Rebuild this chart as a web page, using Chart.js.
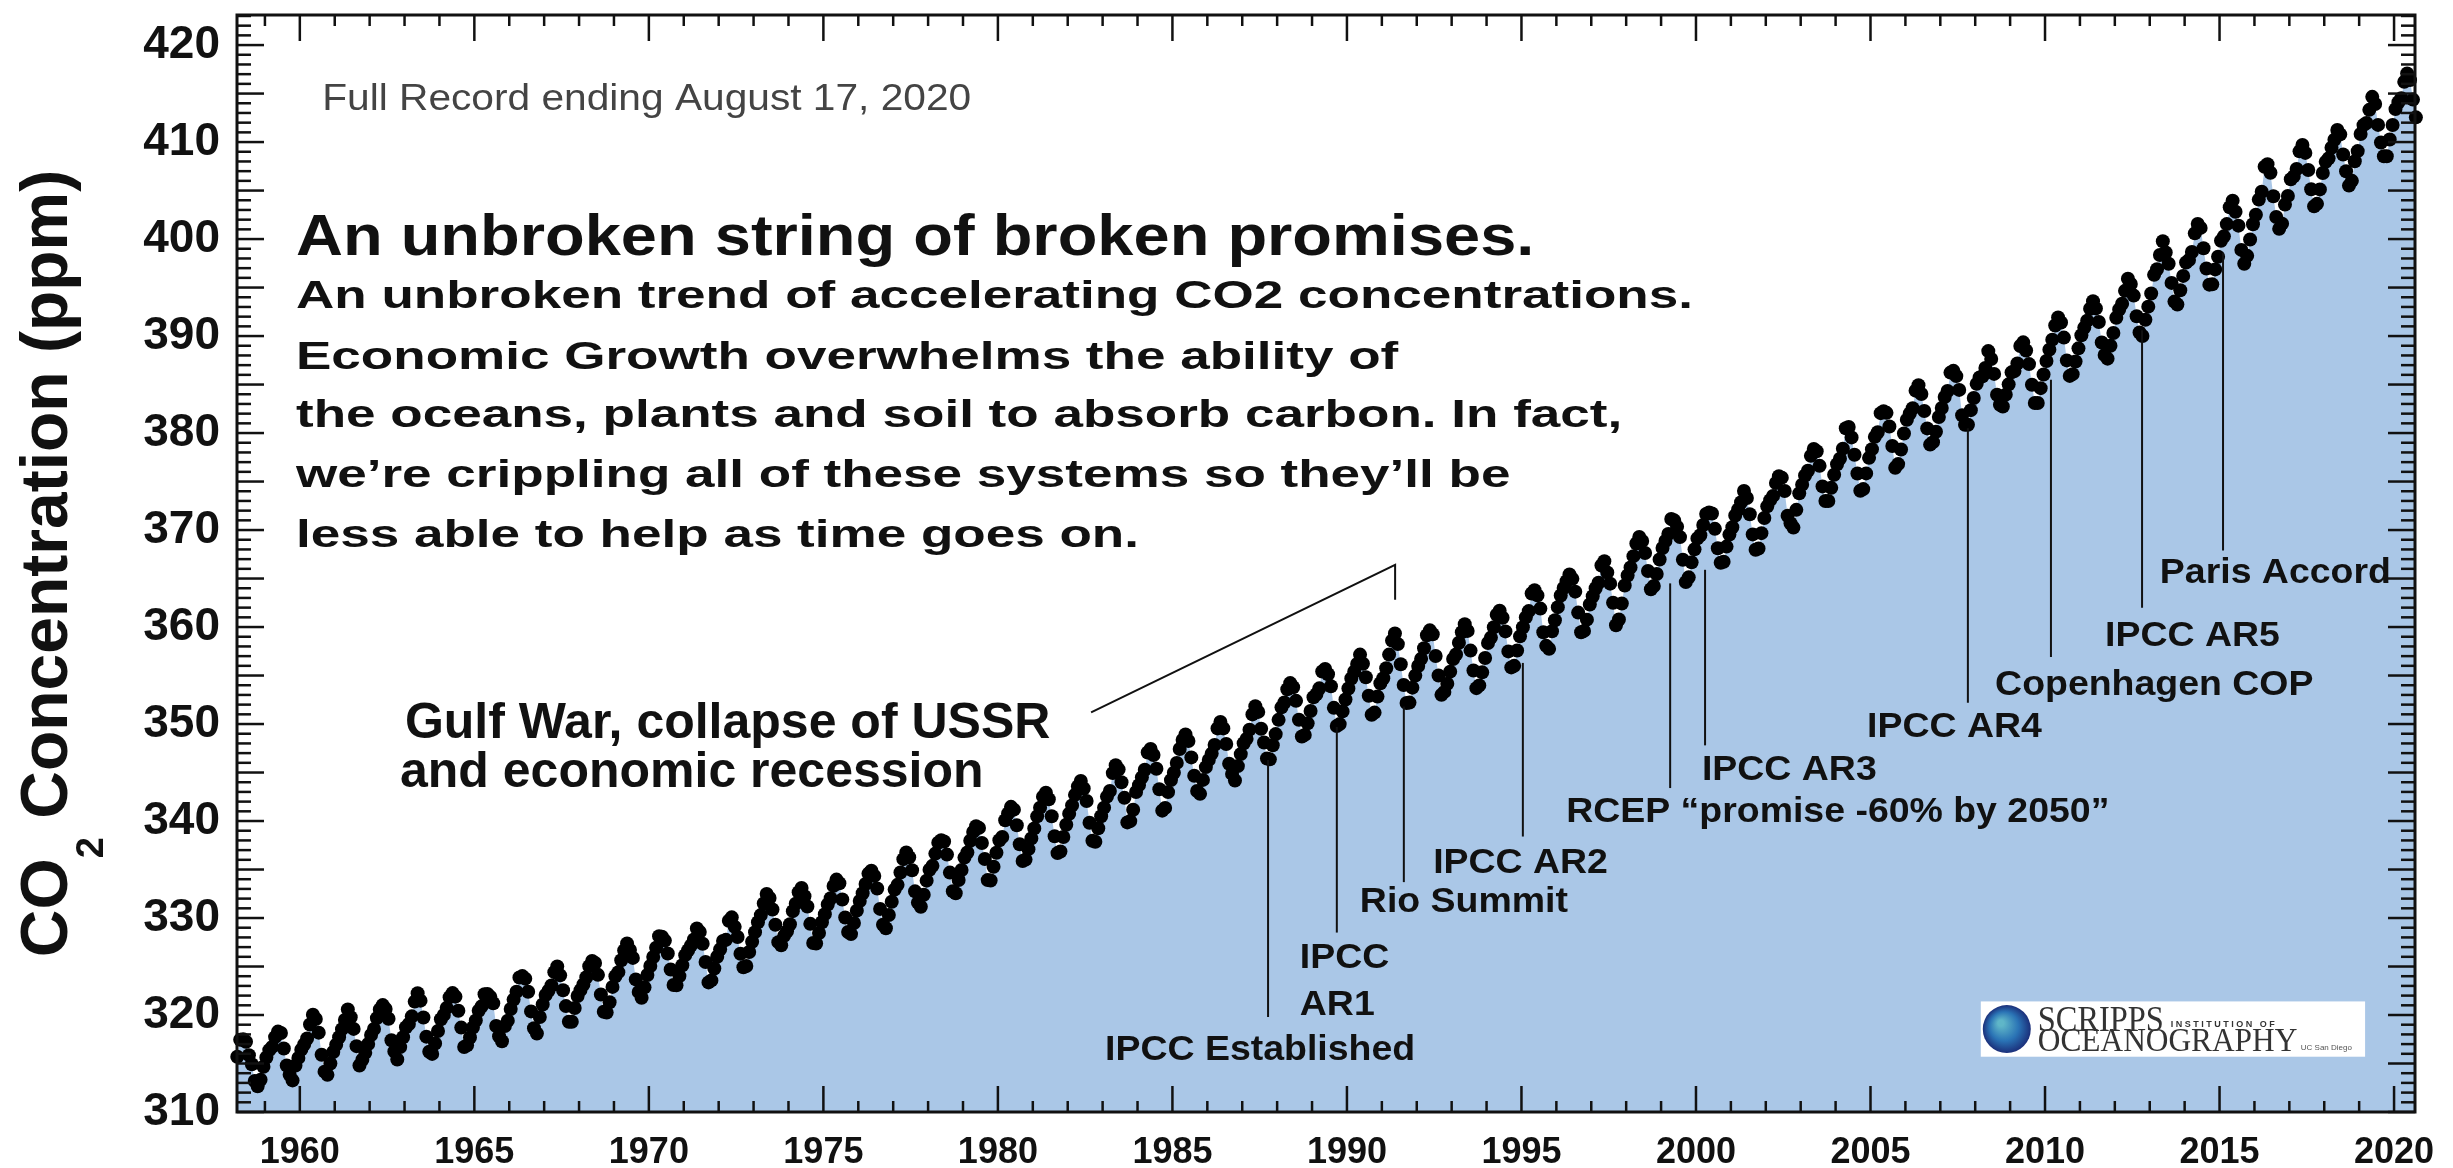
<!DOCTYPE html>
<html>
<head>
<meta charset="utf-8">
<title>CO2 Concentration - Full Record</title>
<script src="https://cdn.jsdelivr.net/npm/chart.js@4.4.1/dist/chart.umd.min.js"></script>
<style>
  html, body { margin: 0; padding: 0; background: #fff; }
  #wrap { width: 2453px; height: 1168px; }
</style>
</head>
<body>
<div id="wrap"><canvas id="co2" width="2453" height="1168"></canvas></div>
<script>
// Mauna Loa monthly mean CO2 (ppm), record starts March 1958
const co2_1958_1959 = [
  315.70, 317.45, 317.51, 317.24, 315.86, 314.93, 313.20, 312.66, 313.33, 314.67,
  315.62, 316.38, 316.71, 317.72, 318.29, 318.15, 316.54, 314.80, 313.84, 313.26, 314.80, 315.58
];
const co2_1960s = [
  316.43, 316.97, 317.58, 319.02, 320.03, 319.59, 318.18, 315.91, 314.16, 313.83, 315.00, 316.19,
  316.93, 317.70, 318.54, 319.48, 320.58, 319.77, 318.57, 316.79, 314.80, 315.38, 316.10, 317.01,
  317.94, 318.55, 319.68, 320.57, 321.02, 320.62, 319.61, 317.40, 316.25, 315.42, 316.69, 317.70,
  318.74, 319.07, 319.86, 321.38, 322.25, 321.48, 319.74, 317.77, 316.21, 315.99, 317.07, 318.35,
  319.57, 320.01, 320.74, 321.84, 322.26, 321.89, 320.44, 318.70, 316.70, 316.87, 317.68, 318.71,
  319.44, 320.44, 320.89, 322.14, 322.17, 321.87, 321.21, 318.87, 317.81, 317.30, 318.87, 319.42,
  320.62, 321.59, 322.39, 323.87, 324.01, 323.75, 322.39, 320.37, 318.64, 318.10, 319.79, 321.08,
  322.07, 322.50, 323.04, 324.42, 325.00, 324.09, 322.55, 320.92, 319.31, 319.31, 320.72, 321.96,
  322.57, 323.15, 323.89, 325.02, 325.57, 325.36, 324.14, 322.11, 320.33, 320.25, 321.32, 322.90,
  324.00, 324.42, 325.64, 326.66, 327.38, 326.70, 325.89, 323.67, 322.38, 321.78, 322.85, 324.12
];
const co2_1970s = [
  325.06, 325.98, 326.93, 328.13, 328.08, 327.67, 326.34, 324.69, 323.10, 323.06, 324.01, 325.13,
  326.17, 326.68, 327.18, 327.78, 328.92, 328.57, 327.34, 325.46, 323.36, 323.57, 324.80, 326.01,
  326.77, 327.63, 327.75, 329.72, 330.07, 329.09, 328.05, 326.32, 324.93, 325.06, 326.50, 327.55,
  328.54, 329.56, 330.30, 331.50, 332.48, 332.07, 330.87, 329.31, 327.51, 327.18, 328.16, 328.64,
  329.35, 330.71, 331.48, 332.65, 333.09, 332.25, 331.18, 329.40, 327.43, 327.37, 328.46, 329.57,
  330.40, 331.40, 332.04, 333.31, 333.96, 333.59, 331.91, 330.06, 328.56, 328.34, 329.49, 330.76,
  331.75, 332.56, 333.50, 334.58, 334.87, 334.34, 333.05, 330.94, 329.30, 328.94, 330.31, 331.68,
  332.93, 333.42, 334.70, 336.07, 336.75, 336.27, 334.92, 332.75, 331.59, 331.16, 332.40, 333.85,
  334.97, 335.38, 336.64, 337.76, 338.01, 337.89, 336.54, 334.68, 332.76, 332.55, 333.92, 334.95,
  336.23, 336.76, 337.96, 338.88, 339.47, 339.29, 337.73, 336.09, 333.91, 333.86, 335.29, 336.73
];
const co2_1980s = [
  338.01, 338.36, 340.08, 340.77, 341.46, 341.17, 339.56, 337.60, 335.88, 336.02, 337.10, 338.21,
  339.24, 340.48, 341.38, 342.51, 342.91, 342.25, 340.49, 338.43, 336.69, 336.85, 338.36, 339.61,
  340.75, 341.61, 342.70, 343.56, 344.13, 343.35, 342.06, 339.82, 337.97, 337.86, 339.26, 340.49,
  341.38, 342.52, 343.10, 344.94, 345.75, 345.32, 343.99, 342.39, 339.86, 339.99, 341.16, 342.99,
  343.70, 344.50, 345.28, 347.06, 347.43, 346.80, 345.39, 343.28, 341.07, 341.35, 342.98, 344.22,
  344.97, 345.99, 347.42, 348.35, 348.93, 348.25, 346.56, 344.67, 343.09, 342.80, 344.24, 345.56,
  346.30, 346.95, 347.85, 349.55, 350.21, 349.55, 347.94, 345.91, 344.86, 344.17, 345.66, 346.90,
  348.02, 348.47, 349.42, 350.99, 351.84, 351.25, 349.52, 348.10, 346.44, 346.36, 347.81, 348.96,
  350.43, 351.72, 352.22, 353.59, 354.22, 353.79, 352.39, 350.44, 348.72, 348.88, 350.07, 351.34,
  352.76, 353.07, 353.68, 355.42, 355.67, 355.13, 353.90, 351.67, 349.80, 349.99, 351.30, 352.53
];
const co2_1990s = [
  353.66, 354.70, 355.39, 356.20, 357.16, 356.22, 354.82, 352.91, 350.96, 351.18, 352.83, 354.21,
  354.72, 355.75, 357.16, 358.60, 359.34, 358.24, 356.17, 354.03, 352.16, 352.21, 353.75, 354.99,
  355.99, 356.72, 357.81, 359.15, 359.66, 359.25, 357.02, 355.00, 353.01, 353.31, 354.16, 355.40,
  356.70, 357.17, 358.38, 359.46, 360.28, 359.60, 357.57, 355.52, 353.70, 353.98, 355.33, 356.80,
  358.36, 358.91, 359.97, 361.26, 361.68, 360.95, 359.55, 357.49, 355.84, 356.00, 357.58, 359.04,
  359.97, 361.00, 361.64, 363.45, 363.79, 363.26, 361.90, 359.46, 358.06, 357.75, 359.56, 360.70,
  362.05, 363.25, 364.03, 364.72, 365.41, 364.97, 363.65, 361.49, 359.46, 359.60, 360.76, 362.33,
  363.18, 364.00, 364.57, 366.35, 366.79, 365.62, 364.47, 362.51, 360.19, 360.77, 362.43, 364.28,
  365.32, 366.15, 367.31, 368.61, 369.29, 368.87, 367.64, 365.77, 363.90, 364.23, 365.46, 366.97,
  368.15, 368.87, 369.59, 371.14, 371.00, 370.35, 369.27, 366.94, 364.63, 365.12, 366.67, 368.01
];
const co2_2000s = [
  369.14, 369.46, 370.52, 371.66, 371.82, 371.70, 370.12, 368.12, 366.62, 366.73, 368.29, 369.53,
  370.28, 371.50, 372.12, 372.87, 374.02, 373.30, 371.62, 369.55, 367.96, 368.09, 369.68, 371.24,
  372.44, 373.08, 373.52, 374.85, 375.55, 375.40, 374.02, 371.48, 370.70, 370.25, 372.08, 373.78,
  374.68, 375.62, 376.11, 377.65, 378.35, 378.13, 376.62, 374.50, 372.99, 373.00, 374.35, 375.70,
  376.79, 377.36, 378.39, 380.50, 380.62, 379.55, 377.76, 375.83, 374.05, 374.22, 375.84, 377.44,
  378.34, 379.61, 380.08, 382.05, 382.24, 382.08, 380.67, 378.67, 376.42, 376.80, 378.31, 379.96,
  381.37, 382.02, 382.56, 384.37, 384.92, 384.03, 382.28, 380.48, 378.81, 379.06, 380.14, 381.66,
  382.58, 383.71, 384.34, 386.23, 386.41, 385.87, 384.45, 381.84, 380.86, 380.86, 382.36, 383.61,
  385.07, 385.72, 385.85, 386.71, 388.45, 387.64, 386.10, 383.95, 382.91, 382.73, 383.96, 385.02,
  386.26, 386.39, 387.18, 388.98, 389.35, 388.51, 387.11, 384.98, 383.10, 383.10, 384.63, 386.03
];
const co2_2010s = [
  387.42, 388.60, 389.63, 391.09, 391.91, 391.40, 389.84, 387.49, 385.89, 386.07, 387.37, 388.73,
  390.09, 390.87, 391.59, 392.82, 393.59, 392.85, 391.45, 389.34, 388.05, 387.67, 389.00, 390.32,
  391.88, 392.73, 393.33, 394.66, 395.91, 395.36, 394.17, 392.04, 390.36, 390.00, 391.68, 393.03,
  394.39, 396.31, 396.89, 398.35, 399.77, 398.61, 397.46, 395.48, 393.55, 393.26, 394.72, 396.20,
  397.58, 397.84, 398.66, 400.59, 401.55, 401.15, 399.05, 396.97, 395.30, 395.33, 396.87, 398.17,
  399.82, 400.28, 401.54, 403.28, 403.96, 402.81, 401.38, 398.88, 397.45, 398.27, 399.96, 401.52,
  402.51, 404.07, 404.87, 407.45, 407.72, 406.83, 404.41, 402.27, 401.05, 401.59, 403.55, 404.45,
  406.17, 406.46, 407.22, 409.04, 409.69, 408.88, 407.12, 405.13, 403.37, 403.63, 405.12, 406.81,
  407.96, 408.32, 409.41, 410.24, 411.24, 410.79, 408.71, 406.99, 405.51, 406.00, 408.02, 409.07,
  410.83, 411.75, 411.97, 413.32, 414.66, 413.92, 411.77, 409.95, 408.54, 408.53, 410.27, 411.76
];
const co2_2020 = [413.40, 414.11, 414.51, 416.21, 417.07, 416.39, 414.38, 412.55];

const xTickYears = [1960, 1965, 1970, 1975, 1980, 1985, 1990, 1995, 2000, 2005, 2010, 2015, 2020];
const yTickValues = [310, 320, 330, 340, 350, 360, 370, 380, 390, 400, 410, 420];

// events: year of the marker line, line top / bottom in ppm
const eventYears = [1987.74, 1989.71, 1991.63, 1995.04, 1999.26, 2000.26, 2007.79, 2010.17, 2012.78, 2015.10];
const eventLineTop = [346.3, 349.7, 351.8, 356.3, 364.5, 365.9, 380.5, 385.5, 390.6, 398.6];
const eventLineBottom = [319.8, 328.5, 333.7, 338.4, 343.4, 347.8, 352.2, 356.9, 362.0, 367.9];

const eventNotes = [
  { text: 'IPCC Established', x: 1983.07, y: 315.4 },
  { text: 'IPCC', x: 1988.65, y: 324.85 },
  { text: 'AR1', x: 1988.65, y: 320.0 },
  { text: 'Rio Summit', x: 1990.37, y: 330.6 },
  { text: 'IPCC AR2', x: 1992.47, y: 334.6 },
  { text: 'RCEP \u201cpromise -60% by 2050\u201d', x: 1996.28, y: 339.9 },
  { text: 'IPCC AR3', x: 2000.17, y: 344.2 },
  { text: 'IPCC AR4', x: 2004.90, y: 348.7 },
  { text: 'Copenhagen COP', x: 2008.57, y: 353.0 },
  { text: 'IPCC AR5', x: 2011.72, y: 358.0 },
  { text: 'Paris Accord', x: 2013.29, y: 364.5 }
];

const gulfNote = [
  { text: 'Gulf War, collapse of USSR', x: 1963.01, y: 348.56 },
  { text: 'and economic recession', x: 1962.87, y: 343.5 }
];
const gulfPointer = [[1982.67, 351.2], [1991.38, 366.4], [1991.38, 362.8]];

const recordNote = { text: 'Full Record ending August 17, 2020', x: 1960.64, y: 413.3 };
const headline = { text: 'An unbroken string of broken promises.', x: 1959.89, y: 398.4 };
const bodyLines = [
  'An unbroken trend of accelerating CO2 concentrations.',
  'Economic Growth overwhelms the ability of',
  'the oceans, plants and soil to absorb carbon. In fact,',
  'we\u2019re crippling all of these systems so they\u2019ll be',
  'less able to help as time goes on.'
];
const bodyBaselines = [392.9, 386.6, 380.6, 374.4, 368.3];

// build points: one per month from March 1958
const monthly = [].concat(co2_1958_1959, co2_1960s, co2_1970s, co2_1980s, co2_1990s, co2_2000s, co2_2010s, co2_2020);
const points = monthly.map((v, i) => ({ x: 1958 + (2 + i + 0.5) / 12, y: v }));

const FONT = "'Liberation Sans', Arial, Helvetica, sans-serif";
const SERIF = "'Liberation Serif', 'Times New Roman', serif";

function drawText(ctx, str, px, py, font, sx, color) {
  ctx.save();
  ctx.font = font;
  ctx.fillStyle = color || '#111';
  ctx.textAlign = 'left';
  ctx.textBaseline = 'alphabetic';
  ctx.translate(px, py);
  ctx.scale(sx, 1);
  ctx.fillText(str, 0, 0);
  ctx.restore();
}

const overlay = {
  id: 'overlay',
  afterDatasetsDraw(chart) {
    const { ctx, chartArea: a, scales: { x, y } } = chart;
    const X = v => x.getPixelForValue(v);
    const Y = v => y.getPixelForValue(v);

    ctx.save();
    ctx.strokeStyle = '#111';
    ctx.lineCap = 'butt';

    // event marker lines
    ctx.lineWidth = 2;
    eventYears.forEach((yr, i) => {
      ctx.beginPath();
      ctx.moveTo(X(yr), Y(eventLineTop[i]));
      ctx.lineTo(X(yr), Y(eventLineBottom[i]));
      ctx.stroke();
    });
    ctx.beginPath();
    gulfPointer.forEach((p, i) => i ? ctx.lineTo(X(p[0]), Y(p[1])) : ctx.moveTo(X(p[0]), Y(p[1])));
    ctx.stroke();

    // inward ticks
    const tick = (x1, y1, x2, y2) => { ctx.beginPath(); ctx.moveTo(x1, y1); ctx.lineTo(x2, y2); ctx.stroke(); };
    ctx.lineWidth = 2.5;
    for (let yr = Math.ceil(x.min); yr <= x.max; yr++) {
      const px = X(yr);
      const len = yr % 5 === 0 ? 26 : 11;
      tick(px, a.bottom, px, a.bottom - len);
      tick(px, a.top, px, a.top + len);
    }
    for (let v = Math.ceil(y.min); v <= y.max; v++) {
      const py = Y(v);
      const len = v % 5 === 0 ? 27 : 14;
      tick(a.left, py, a.left + len, py);
      tick(a.right, py, a.right - len, py);
    }
    // frame
    ctx.lineWidth = 3;
    ctx.strokeRect(a.left, a.top, a.right - a.left, a.bottom - a.top);
    ctx.restore();

    // texts
    drawText(ctx, recordNote.text, X(recordNote.x), Y(recordNote.y), `36px ${FONT}`, 1.13, '#444');
    drawText(ctx, headline.text, X(headline.x), Y(headline.y), `bold 57px ${FONT}`, 1.14);
    bodyLines.forEach((t, i) => drawText(ctx, t, X(headline.x), Y(bodyBaselines[i]), `bold 39px ${FONT}`, 1.36));
    gulfNote.forEach(n => drawText(ctx, n.text, X(n.x), Y(n.y), `bold 50px ${FONT}`, 1.0));
    eventNotes.forEach(n => drawText(ctx, n.text, X(n.x), Y(n.y), `bold 35px ${FONT}`, 1.07));

    // Scripps logo box
    const lx0 = X(2008.16), lx1 = X(2019.17), ly0 = Y(321.4), ly1 = Y(315.7);
    ctx.save();
    ctx.fillStyle = '#fff';
    ctx.fillRect(lx0, ly0, lx1 - lx0, ly1 - ly0);
    const gx = lx0 + 26, gy = (ly0 + ly1) / 2, gr = 24;
    const grad = ctx.createRadialGradient(gx - 6, gy - 6, 3, gx, gy, gr);
    grad.addColorStop(0, '#5fb6c8');
    grad.addColorStop(0.55, '#2a73b5');
    grad.addColorStop(1, '#1b2f7a');
    ctx.fillStyle = grad;
    ctx.beginPath(); ctx.arc(gx, gy, gr, 0, Math.PI * 2); ctx.fill();
    ctx.restore();
    drawText(ctx, 'SCRIPPS', lx0 + 57, ly0 + 30, `36px ${SERIF}`, 0.9, '#333');
    drawText(ctx, 'I N S T I T U T I O N   O F', lx0 + 190, ly0 + 26, `bold 9px ${FONT}`, 1.0, '#333');
    drawText(ctx, 'OCEANOGRAPHY', lx0 + 57, ly0 + 50, `33px ${SERIF}`, 0.95, '#333');
    drawText(ctx, 'UC San Diego', lx0 + 320, ly0 + 49, `8px ${FONT}`, 1.0, '#555');

    // y axis title with subscript
    ctx.save();
    ctx.fillStyle = '#111';
    ctx.textBaseline = 'alphabetic';
    ctx.textAlign = 'left';
    const big = `bold 66px ${FONT}`, sub = `bold 38px ${FONT}`;
    ctx.font = big;
    const w1 = ctx.measureText('CO').width;
    const w3 = ctx.measureText(' Concentration (ppm)').width;
    ctx.font = sub;
    const w2 = ctx.measureText('2').width;
    const total = w1 + w2 + w3;
    ctx.translate(67, (a.top + a.bottom) / 2);
    ctx.rotate(-Math.PI / 2);
    let cx = -total / 2;
    ctx.font = big; ctx.fillText('CO', cx, 0); cx += w1;
    ctx.font = sub; ctx.fillText('2', cx, 36); cx += w2;
    ctx.font = big; ctx.fillText(' Concentration (ppm)', cx, 0);
    ctx.restore();
  }
};

new Chart(document.getElementById('co2'), {
  type: 'line',
  data: {
    datasets: [{
      label: 'CO2',
      data: points,
      borderColor: 'rgba(0,0,0,0)',
      borderWidth: 1,
      backgroundColor: '#aac7e7',
      fill: 'start',
      tension: 0,
      pointRadius: 7,
      pointBackgroundColor: '#000',
      pointBorderWidth: 0,
      clip: 8
    }]
  },
  options: {
    responsive: false,
    animation: false,
    devicePixelRatio: 1,
    layout: { padding: { top: 15, right: 38, left: 0, bottom: 0 } },
    plugins: { legend: { display: false }, tooltip: { enabled: false } },
    scales: {
      x: {
        type: 'linear',
        min: 1958.2,
        max: 2020.6,
        afterBuildTicks: s => { s.ticks = xTickYears.map(v => ({ value: v })); },
        afterFit: s => { s.height = 56; s.paddingLeft = 0; s.paddingRight = 0; },
        grid: { display: false, drawTicks: false },
        border: { display: false },
        ticks: {
          padding: 19,
          maxRotation: 0,
          autoSkip: false,
          color: '#111',
          font: { family: FONT, size: 36, weight: 'bold' },
          callback: v => String(v)
        }
      },
      y: {
        type: 'linear',
        min: 310,
        max: 423.1,
        afterBuildTicks: s => { s.ticks = yTickValues.map(v => ({ value: v })); },
        afterFit: s => { s.width = 237; s.paddingTop = 0; s.paddingBottom = 0; },
        grid: { display: false, drawTicks: false },
        border: { display: false },
        ticks: {
          padding: 17,
          autoSkip: false,
          color: '#111',
          font: { family: FONT, size: 46, weight: 'bold' },
          callback: v => String(v)
        }
      }
    }
  },
  plugins: [overlay]
});
</script>
</body>
</html>
